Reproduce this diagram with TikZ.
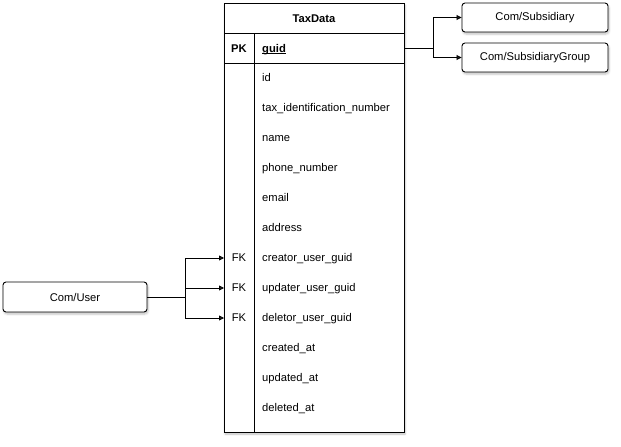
\documentclass[tikz,border=0pt]{standalone}
\usepackage{fontspec}
\setmainfont{Liberation Sans}
\usetikzlibrary{arrows.meta,shadows.blur}
\begin{document}
\begin{tikzpicture}[x=1pt,y=-1pt,
  every node/.style={font=\fontsize{11.2}{13}\selectfont},
  shd/.style={blur shadow={shadow blur steps=5,shadow xshift=1pt,shadow yshift=-2pt,shadow opacity=25}},
  box/.style={draw, line width=0.9pt, rounded corners=3pt, fill=white, shd},
  conn/.style={line width=0.8pt, -{Triangle[length=5pt,width=5pt]}},
  lbl/.style={anchor=base west, inner sep=0pt}
]
\useasboundingbox (0,0) rectangle (621,447);
% table
\path[fill=white, shd] (224,3) rectangle (404,432);
\draw[line width=0.9pt] (224,3) rectangle (404,432);
\draw[line width=0.9pt] (224,33) -- (404,33);
\draw[line width=0.9pt] (224,63) -- (404,63);
\draw[line width=0.9pt] (254,33) -- (254,432);
\node[anchor=base, inner sep=0pt, font=\fontsize{11.2}{13}\selectfont\bfseries] (title) at (314,22) {TaxData};
\node[anchor=base, inner sep=0pt, font=\fontsize{11.2}{13}\selectfont\bfseries] (pk) at (239,52) {PK};
\node[lbl, font=\fontsize{11.2}{13}\selectfont\bfseries] (guid) at (262,52) {guid};
\draw[line width=0.7pt] ([yshift=-1.8pt]guid.base west) -- ([yshift=-1.8pt]guid.base east);
\coordinate (guidR) at (404,48);
\node[lbl] (f1) at (262,81) {id};
\node[lbl] (f2) at (262,111) {tax\_identification\_number};
\node[lbl] (f3) at (262,141) {name};
\node[lbl] (f4) at (262,171) {phone\_number};
\node[lbl] (f5) at (262,201) {email};
\node[lbl] (f6) at (262,231) {address};
\node[lbl] (f7) at (262,261) {creator\_user\_guid};
\node[lbl] (f8) at (262,291) {updater\_user\_guid};
\node[lbl] (f9) at (262,321) {deletor\_user\_guid};
\node[lbl] (f10) at (262,351) {created\_at};
\node[lbl] (f11) at (262,381) {updated\_at};
\node[lbl] (f12) at (262,411) {deleted\_at};
\node[anchor=base, inner sep=0pt] (fk1) at (239,261) {FK};
\node[anchor=base, inner sep=0pt] (fk2) at (239,291) {FK};
\node[anchor=base, inner sep=0pt] (fk3) at (239,321) {FK};
\coordinate (in1) at (224,258);
\coordinate (in2) at (224,288);
\coordinate (in3) at (224,318);
% boxes
\node[box, minimum width=146pt, minimum height=29pt] (sub) at (535,17.5) {Com/Subsidiary};
\node[box, minimum width=146pt, minimum height=29pt] (subg) at (535,57.5) {Com/SubsidiaryGroup};
\node[box, minimum width=144pt, minimum height=30pt] (user) at (75,297) {Com/User};
% connectors
\draw[conn] (guidR) -- (433,48) |- (sub.west);
\draw[conn] (guidR) -- (433,48) |- (subg.west);
\draw[conn] (user.east) -- (185,297) |- (in1);
\draw[conn] (user.east) -- (185,297) |- (in2);
\draw[conn] (user.east) -- (185,297) |- (in3);
\end{tikzpicture}
\end{document}
